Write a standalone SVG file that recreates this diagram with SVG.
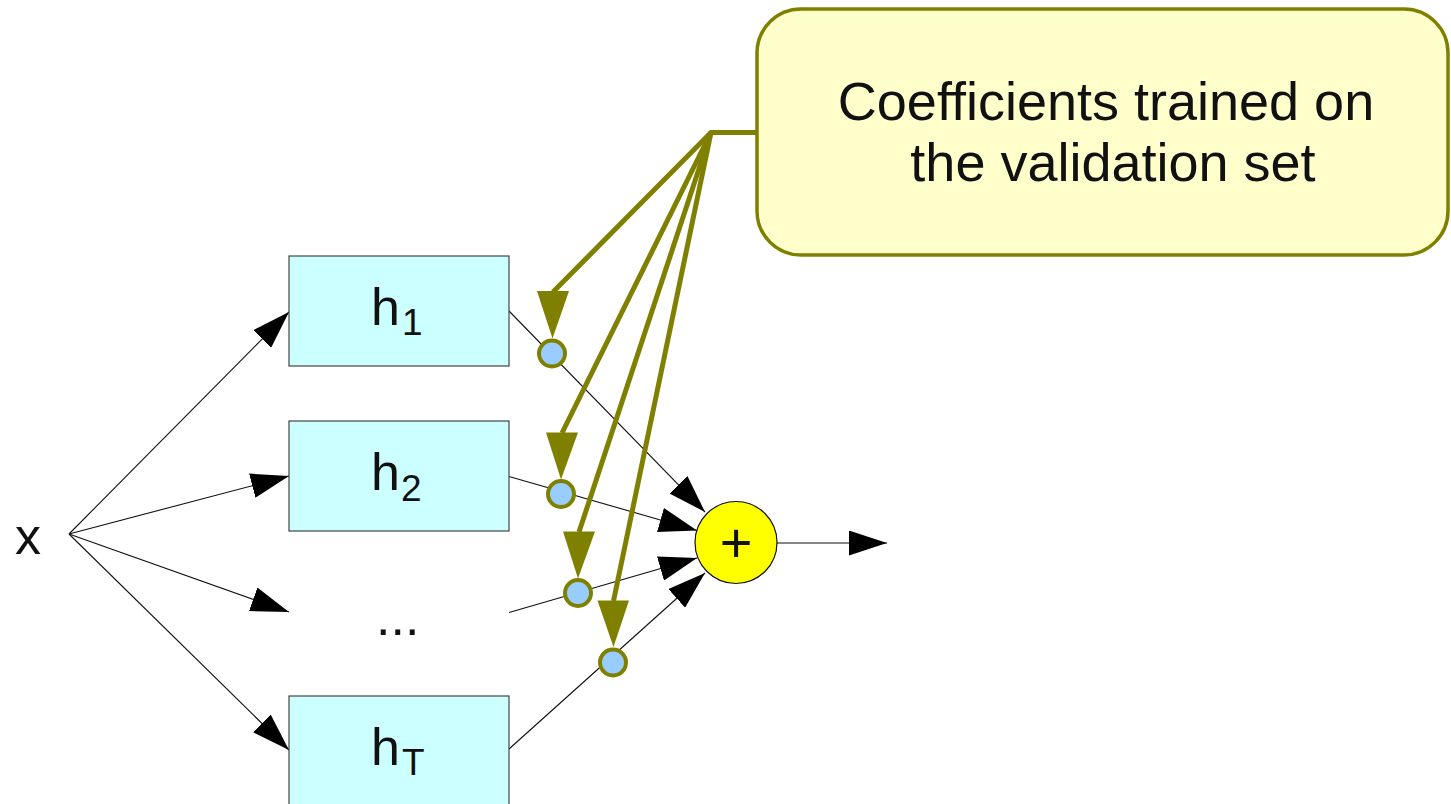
<svg xmlns="http://www.w3.org/2000/svg" width="1451" height="804" viewBox="0 0 1451 804">
  <defs>
    <style>
      text { font-family: "Liberation Sans", Arial, sans-serif; fill: #111; }
      .box { fill: #ccffff; stroke: #444; stroke-width: 1.2; }
      .wire { stroke: #111; stroke-width: 1.1; fill: none; }
      .olive { stroke: #808000; stroke-width: 5; fill: none; }
      .ohead { fill: #808000; stroke: none; }
      .coef { fill: #99ccff; stroke: #808000; stroke-width: 4; }
    </style>
    <marker id="ah" markerUnits="userSpaceOnUse" markerWidth="38" markerHeight="25" refX="38" refY="12.5" orient="auto" viewBox="0 0 38 25">
      <path d="M0,0 L38,12.5 L0,25 Z" fill="#000"/>
    </marker>
  </defs>

  <g id="connectors">
    <line class="wire" x1="69" y1="534" x2="289" y2="312" marker-end="url(#ah)"/>
    <line class="wire" x1="69" y1="534" x2="289" y2="476" marker-end="url(#ah)"/>
    <line class="wire" x1="69" y1="534" x2="289" y2="612" marker-end="url(#ah)"/>
    <line class="wire" x1="69" y1="534" x2="289" y2="750" marker-end="url(#ah)"/>
    <line class="wire" x1="509" y1="311" x2="705" y2="512" marker-end="url(#ah)"/>
    <line class="wire" x1="509" y1="476.5" x2="697" y2="530.5" marker-end="url(#ah)"/>
    <line class="wire" x1="509" y1="612.5" x2="697" y2="558" marker-end="url(#ah)"/>
    <line class="wire" x1="509" y1="749" x2="705" y2="573" marker-end="url(#ah)"/>
    <line class="wire" x1="777" y1="543" x2="887" y2="543" marker-end="url(#ah)"/>
    <polyline class="olive" points="756,132.5 711,132.5 553,292"/>
    <line class="olive" x1="711" y1="132.5" x2="562" y2="433"/>
    <line class="olive" x1="711" y1="132.5" x2="579" y2="532"/>
    <line class="olive" x1="711" y1="132.5" x2="613.5" y2="601"/>
    <polygon class="ohead" points="537,291 569,291 552.5,338.5"/>
    <polygon class="ohead" points="546,432.5 578,432.5 561,479.5"/>
    <polygon class="ohead" points="563,531.5 595,531.5 578,578.5"/>
    <polygon class="ohead" points="597.5,600.5 629,600.5 613.5,647"/>
  </g>

  <g id="input-x">
    <text x="15" y="554" font-size="52">x</text>
  </g>

  <g id="h1">
    <rect class="box" x="289" y="256" width="220" height="110"/>
    <text x="371" y="325" font-size="52">h<tspan font-size="37" dx="2" dy="10">1</tspan></text>
  </g>
  <g id="h2">
    <rect class="box" x="289" y="421" width="220" height="110"/>
    <text x="371" y="490" font-size="52">h<tspan font-size="37" dx="1" dy="11">2</tspan></text>
  </g>
  <g id="hdots">
    <text x="376" y="635" font-size="52">...</text>
  </g>
  <g id="hT">
    <rect class="box" x="289" y="696" width="220" height="110"/>
    <text x="371" y="765" font-size="52">h<tspan font-size="37" dx="2" dy="10">T</tspan></text>
  </g>

  <g id="coef1"><circle class="coef" cx="552" cy="353.5" r="13"/></g>
  <g id="coef2"><circle class="coef" cx="561" cy="494" r="13"/></g>
  <g id="coef3"><circle class="coef" cx="578" cy="593" r="13"/></g>
  <g id="coef4"><circle class="coef" cx="613" cy="662.5" r="13"/></g>

  <g id="sum">
    <circle cx="736" cy="542.5" r="41" fill="#ffff00" stroke="#111" stroke-width="1.2"/>
    <text x="736" y="562" font-size="56" text-anchor="middle">+</text>
  </g>

  <g id="callout">
    <rect x="757" y="9" width="691" height="246" rx="44" ry="44" fill="#ffffcc" stroke="#808000" stroke-width="3.5"/>
    <text x="1106" y="120" font-size="54" text-anchor="middle">Coefficients trained on</text>
    <text x="1113" y="181" font-size="54" text-anchor="middle">the validation set</text>
  </g>
</svg>
